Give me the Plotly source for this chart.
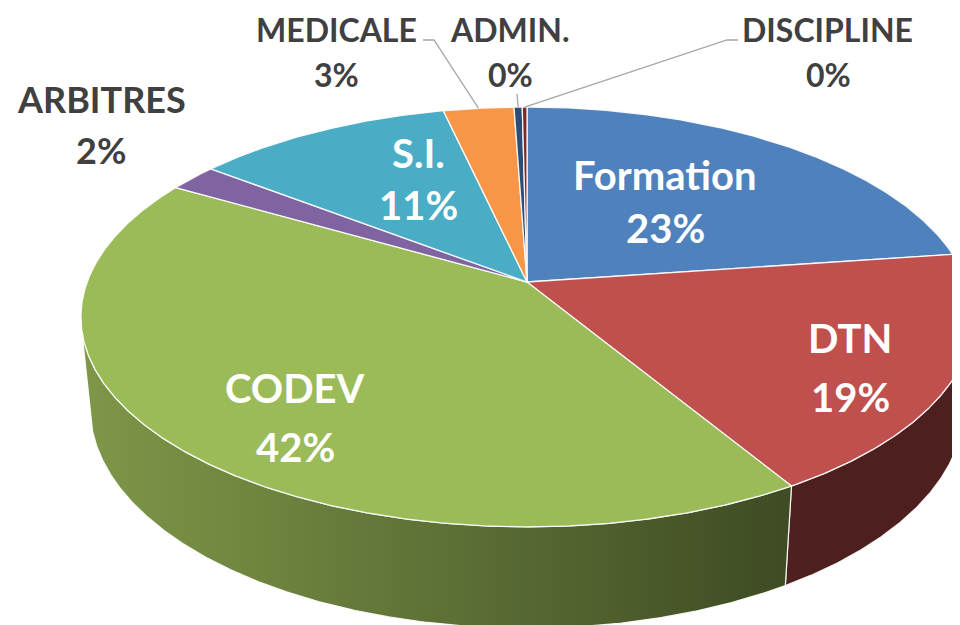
import math
import numpy as np
import plotly.graph_objects as go

# ---------------- data ----------------
categories = ["Formation", "DTN", "CODEV", "ARBITRES", "S.I.", "MEDICALE", "ADMIN.", "DISCIPLINE"]
values = [22.8, 18.6, 42.0, 2.1, 11.0, 3.0, 0.35, 0.2]
colors = ["#4F81BD", "#C0504D", "#9BBB59", "#8064A2", "#4BACC6", "#F79646", "#2C4D75", "#772C2A"]

# ---------------- layout / styling ----------------
W, H_PX = 960, 625
PAGE_OFF = 8                   # default page body margin
CX, CY = 527.0, 282.0          # screen position of pie centre
FOC = 2340.0                   # perspective focal scale
DIST = 5.32                    # camera distance (in radii)
TILT = math.asin(0.464)        # tilt of the pie plane
THICK = 0.235                  # pie thickness (in radii)
SN, CS = math.sin(TILT), math.cos(TILT)

inside = [True, True, True, False, True, False, False, False]
label_size = [40, 40, 40, 36, 40, 32, 32, 32]
name_pos = [(665, 175), (850, 338), (295, 388), (101, 99), (418, 153), (336, 29), (510, 29), (827, 29)]
pct_pos = [(665, 228), (850, 397), (295, 447), (101, 150), (418, 205), (336, 74), (510, 74), (828, 74)]
leader_elbows = {5: [(423, 40), (434, 40)], 6: [(517, 94)], 7: [(738, 40), (727, 40)]}
FONT = "Lato"


def proj(theta_deg, r, z):
    t = np.radians(theta_deg)
    X = r * np.sin(t)
    Y = r * np.cos(t)
    v = Y * SN + z * CS
    d = DIST + Y * CS - z * SN
    return CX + FOC * X / d, CY - FOC * v / d


def shade(hex_color, f):
    h = hex_color.lstrip("#")
    r, g, b = (int(h[i:i + 2], 16) for i in (0, 2, 4))
    return "rgb(%d,%d,%d)" % (round(r * f), round(g * f), round(b * f))


def wall_factor(x):
    return float(np.clip(0.81 - 0.41 * (x - 85) / 705, 0.40, 0.81))


total = float(sum(values))
bounds = np.concatenate([[0.0], np.cumsum(values)]) / total * 360.0

fig = go.Figure()

# visible range of the side wall
vis = math.degrees(math.acos(-1.0 / (DIST * CS)))
vis_lo, vis_hi = vis, 360.0 - vis

# walls
for i, c in enumerate(colors):
    a0, a1 = bounds[i], bounds[i + 1]
    lo, hi = max(a0, vis_lo), min(a1, vis_hi)
    if hi <= lo:
        continue
    n = max(20, int((hi - lo) * 3))
    th = np.linspace(lo, hi, n)
    xt, yt = proj(th, 1.0, 0.0)
    xb, yb = proj(th[::-1], 1.0, -THICK)
    xs = np.concatenate([xt, xb, xt[:1]])
    ys = np.concatenate([yt, yb, yt[:1]])
    xmin, xmax = 80.0, 960.0
    stops = np.linspace(xmin, xmax, 12)
    cscale = [[(s - xmin) / (xmax - xmin), shade(c, wall_factor(s))] for s in stops]
    fig.add_trace(go.Scatter(
        x=xs, y=ys, mode="lines", fill="toself",
        line=dict(color="rgba(255,255,255,0.9)", width=1.2),
        fillgradient=dict(type="horizontal", colorscale=cscale, start=xmin, stop=xmax),
        hoverinfo="skip", showlegend=False))

# top faces
for i, c in enumerate(colors):
    a0, a1 = bounds[i], bounds[i + 1]
    n = max(4, int((a1 - a0) * 3))
    th = np.linspace(a0, a1, n)
    xa, ya = proj(th, 1.0, 0.0)
    xs = np.concatenate([[CX], xa, [CX]])
    ys = np.concatenate([[CY], ya, [CY]])
    fig.add_trace(go.Scatter(
        x=xs, y=ys, mode="lines", fill="toself", fillcolor=c,
        line=dict(color="rgba(255,255,255,0.9)", width=1.3),
        hoverinfo="skip", showlegend=False))

# leader lines
for i, elbow in leader_elbows.items():
    mid = (bounds[i] + bounds[i + 1]) / 2
    ex, ey = proj(mid, 1.0, 0.0)
    xs = [p[0] for p in elbow] + [float(ex)]
    ys = [p[1] for p in elbow] + [float(ey)]
    fig.add_trace(go.Scatter(x=xs, y=ys, mode="lines",
                             line=dict(color="#A6A6A6", width=1.3),
                             hoverinfo="skip", showlegend=False))

# labels
annotations = []
for i, name in enumerate(categories):
    pct = "%d%%" % round(values[i] / total * 100)
    col = "white" if inside[i] else "#404040"
    for txt, (x, y) in ((name, name_pos[i]), (pct, pct_pos[i])):
        annotations.append(dict(x=x, y=y, xref="x", yref="y", text="<b>%s</b>" % txt,
                                showarrow=False, xanchor="center", yanchor="middle",
                                font=dict(family=FONT, size=label_size[i], color=col)))

fig.update_layout(
    width=W, height=H_PX,
    margin=dict(l=0, r=0, t=0, b=0),
    paper_bgcolor="white", plot_bgcolor="white",
    xaxis=dict(range=[PAGE_OFF, W + PAGE_OFF], visible=False, fixedrange=True),
    yaxis=dict(range=[H_PX + PAGE_OFF, PAGE_OFF], visible=False, fixedrange=True),
    annotations=annotations,
    showlegend=False,
)

fig.write_html("out.html")
